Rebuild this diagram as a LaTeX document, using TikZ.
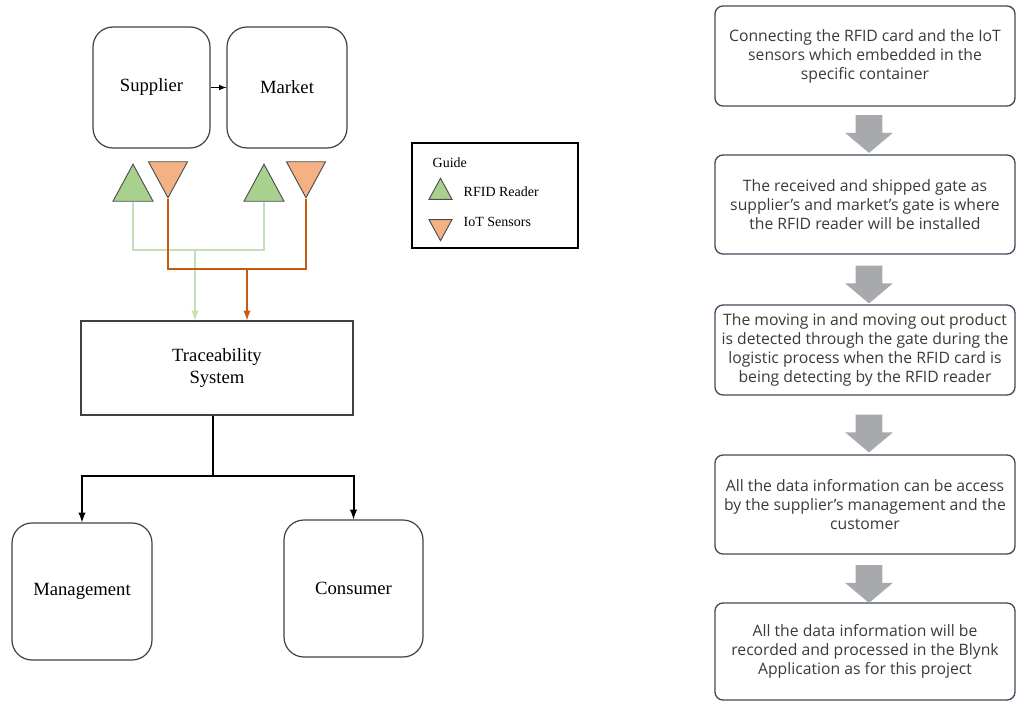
\documentclass[tikz,border=0pt]{standalone}
\usepackage{fontspec}
\setmainfont{Liberation Serif}
\newfontfamily\flowfont{Open Sans}
\usetikzlibrary{shapes.geometric,shapes.arrows}

\definecolor{rfidgreen}{HTML}{A9D18E}
\definecolor{rfidwire}{HTML}{C5E0B4}
\definecolor{iotorange}{HTML}{F4B183}
\definecolor{iotwire}{HTML}{C55A11}
\definecolor{flowborder}{HTML}{3E4A5C}
\definecolor{flowtext}{HTML}{3A3A3A}
\definecolor{flowgray}{HTML}{A7A9AC}

\tikzstyle{roundbox} = [draw=black!75, line width=0.9pt, rectangle,
    rounded corners=15pt, inner sep=0pt, font=\fontsize{14}{16}\selectfont]
\tikzstyle{sysbox} = [draw=black!75, line width=0.9pt, rectangle,
    align=center, font=\fontsize{14}{17}\selectfont]
\tikzstyle{reader} = [isosceles triangle, isosceles triangle stretches,
    shape border rotate=90, draw=black!70, fill=rfidgreen, line width=0.7pt, inner sep=0pt]
\tikzstyle{sensor} = [reader, shape border rotate=270, fill=iotorange]
\tikzstyle{flowbox} = [draw=flowborder, line width=1pt, rectangle, rounded corners=6pt,
    align=center, text=flowtext, font=\flowfont\fontsize{11.8}{14.3}\selectfont, minimum width=225pt]
\tikzstyle{flowarrow} = [single arrow, shape border rotate=270, fill=flowgray, draw=none,
    inner sep=9.75pt, minimum width=35.25pt, minimum height=27.75pt,
    single arrow head extend=7.9pt, single arrow tip angle=100]

\begin{document}
\begin{tikzpicture}[x=0.75pt,y=-0.75pt]
\useasboundingbox (0,0) rectangle (1017,702);

% supply chain
\node[roundbox, minimum width=87.75pt, minimum height=90.75pt] (sup) at (151.5,87.5) {Supplier};
\node[roundbox, minimum width=90pt, minimum height=90.75pt] (mkt) at (287,87.5) {Market};
\draw[-latex, line width=0.9pt] (sup) -- (mkt);

% readers and sensors at the gates
\node[reader, minimum width=30pt, minimum height=27.75pt, anchor=apex] (rfid1) at (133,163) {};
\node[sensor, minimum width=29.25pt, minimum height=27pt, anchor=apex] (iot1) at (168,199) {};
\node[reader, minimum width=30pt, minimum height=27.75pt, anchor=apex] (rfid2) at (264,163) {};
\node[sensor, minimum width=29.25pt, minimum height=27pt, anchor=apex] (iot2) at (306,199) {};

\node[sysbox, minimum width=204pt, minimum height=70.5pt] (trace) at (217,368) {Traceability\\System};

\coordinate (rjoin) at (195,250);
\coordinate (sjoin) at (247,269);
\draw[rfidwire, line width=1.5pt] (rfid1.south) |- (rjoin) -| (rfid2.south);
\draw[rfidwire, line width=1.5pt, -latex] (rjoin) -- (rjoin |- trace.north);
\draw[iotwire, line width=1.5pt] (iot1.apex) |- (sjoin) -| (iot2.apex);
\draw[iotwire, line width=1.5pt, -latex] (sjoin) -- (sjoin |- trace.north);

% users of the data
\node[roundbox, minimum width=105pt, minimum height=102.75pt] (mgmt) at (82,591.5) {Management};
\node[roundbox, minimum width=104.25pt, minimum height=102.75pt] (cons) at (353.5,588.5) {Consumer};

\coordinate (split) at (213,476);
\draw[line width=1.5pt] (trace.south -| split) -- (split);
\draw[line width=1.5pt, -latex] (split) -| (mgmt.north);
\draw[line width=1.5pt, -latex] (split) -| (cons.north);

% guide
\node[draw=black, line width=1.5pt, minimum width=124.5pt, minimum height=78.75pt] (guide) at (495,195.5) {};
\node[anchor=west, font=\fontsize{10.5}{12}\selectfont] (guidetitle) at (428,163) {Guide};
\node[reader, minimum width=17.25pt, minimum height=15.75pt] (keyrfid) at (440.5,192.5) {};
\node[sensor, minimum width=17.25pt, minimum height=15.75pt] (keyiot) at (440.5,226.5) {};
\node[anchor=west, font=\fontsize{10.5}{12}\selectfont] (keyrfidtext) at (459,192) {RFID Reader};
\node[anchor=west, font=\fontsize{10.5}{12}\selectfont] (keyiottext) at (459,222) {IoT Sensors};

% process flow
\node[flowbox, minimum height=75pt] (step1) at (865,56) {Connecting the RFID card and the IoT\\sensors which embedded in the\\specific container};
\node[flowbox, minimum height=74.25pt] (step2) at (865,204.5) {The received and shipped gate as\\supplier’s and market’s gate is where\\the RFID reader will be installed};
\node[flowbox, minimum height=67.5pt] (step3) at (865,350) {The moving in and moving out product\\is detected through the gate during the\\logistic process when the RFID card is\\being detecting by the RFID reader};
\node[flowbox, minimum height=74.25pt] (step4) at (865,504.5) {All the data information can be access\\by the supplier’s management and the\\customer};
\node[flowbox, minimum height=72.75pt] (step5) at (865,651.5) {All the data information will be\\recorded and processed in the Blynk\\Application as for this project};

\node[flowarrow] (arr1) at (869,128.5) {};
\node[flowarrow] (arr2) at (869,279) {};
\node[flowarrow] (arr3) at (869,428) {};
\node[flowarrow] (arr4) at (869,578.5) {};
\end{tikzpicture}
\end{document}
